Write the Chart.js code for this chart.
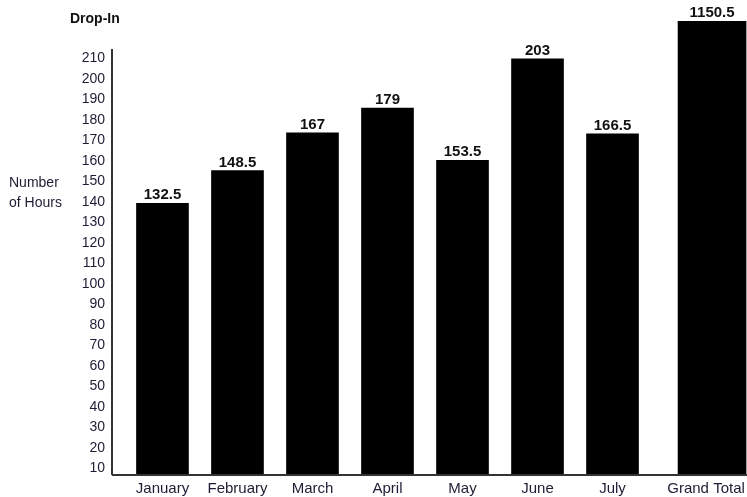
<!DOCTYPE html>
<html lang="en">
<head>
  <meta charset="UTF-8" />
  <title>Drop-In Hours</title>
  <script src="https://cdn.jsdelivr.net/npm/chart.js"></script>
  <style>
    body {
      margin: 0;
      background: #fff;
      font-family: 'Liberation Sans', Arial, sans-serif;
    }
    .wrap {
      position: relative;
      width: 747px;
      height: 497px;
    }
    .title {
      position: absolute;
      left: 70px;
      top: 11px;
      font-size: 14px;
      font-weight: bold;
      line-height: 14px;
      color: #111;
    }
    .ylabel {
      position: absolute;
      left: 9px;
      top: 172px;
      font-size: 14px;
      line-height: 20px;
      color: #1d1d35;
    }
  </style>
</head>
<body>
  <div class="wrap">
    <canvas id="hoursChart"></canvas>
    <div class="title">Drop-In</div>
    <div class="ylabel">Number<br>of Hours</div>
  </div>

  <script>
    // values
    const categories = ["January", "February", "March", "April", "May", "June", "July", "Grand Total"];
    const monthHours = [132.5, 148.5, 167, 179, 153.5, 203, 166.5];
    const grandTotal = 1150.5;
    const yTickLabels = [10, 20, 30, 40, 50, 60, 70, 80, 90, 100, 110, 120, 130, 140, 150, 160, 170, 180, 190, 200, 210];

    // layout of the original: the grand total bar sits a bit further right,
    // its label a touch left of the bar centre
    const gtPos = 7.327, gtLabelPos = 7.247;
    const xMin = -0.673, xMax = 7.793;
    // the printed scale is shifted against the bars in the original
    const labelMin = 6.7, labelMax = 228.2, axisTop = 214.5;
    const barMax = 221.5;

    const valueLabels = {
      id: "valueLabels",
      afterDatasetsDraw(chart) {
        const c = chart.ctx;
        c.save();
        c.fillStyle = "#111";
        c.font = "bold 15px 'Liberation Sans', Arial, sans-serif";
        c.textAlign = "center";
        c.textBaseline = "alphabetic";
        chart.data.datasets.forEach((ds, di) => {
          chart.getDatasetMeta(di).data.forEach((bar, i) => {
            const top = Math.max(bar.y, chart.chartArea.top);
            c.fillText(String(ds.data[i].y), bar.x, top - 4);
          });
        });
        c.restore();
      }
    };

    const axisLines = {
      id: "axisLines",
      afterDraw(chart) {
        const c = chart.ctx;
        const a = chart.chartArea;
        const y1 = chart.scales.y1;
        c.save();
        c.strokeStyle = "#333";
        c.lineWidth = 2;
        c.beginPath();
        c.moveTo(a.left, y1.getPixelForValue(axisTop));
        c.lineTo(a.left, a.bottom);
        c.moveTo(a.left, a.bottom);
        c.lineTo(a.right, a.bottom);
        c.stroke();
        c.restore();
      }
    };

    new Chart(document.getElementById("hoursChart").getContext("2d"), {
      type: "bar",
      data: {
        datasets: [{
          label: "Hours",
          data: monthHours.map((v, i) => ({ x: i, y: v })),
          backgroundColor: "#000",
          barThickness: 52,
          grouped: false,
          clip: 0,
          yAxisID: "y"
        }, {
          label: "Grand Total",
          data: [{ x: gtPos, y: grandTotal }],
          backgroundColor: "#000",
          barThickness: 68,
          grouped: false,
          clip: 0,
          yAxisID: "y"
        }]
      },
      options: {
        responsive: true,
        maintainAspectRatio: false,
        animation: false,
        layout: { padding: { top: 21, left: 0, right: 0, bottom: 0 } },
        plugins: {
          legend: { display: false },
          tooltip: { enabled: false }
        },
        scales: {
          x: {
            type: "linear",
            min: xMin,
            max: xMax,
            offset: false,
            grid: { display: false, drawTicks: false },
            border: { display: false },
            afterBuildTicks: s => {
              s.ticks = categories.map((c, i) => ({ value: i < monthHours.length ? i : gtLabelPos }));
            },
            afterFit: s => {
              s.height = 22;
              s.paddingLeft = 0;
              s.paddingRight = 0;
            },
            ticks: {
              autoSkip: false,
              maxRotation: 0,
              minRotation: 0,
              padding: 5,
              color: "#1d1d35",
              font: { family: "'Liberation Sans', Arial, sans-serif", size: 15 },
              callback: (v, i) => categories[i]
            }
          },
          y: {
            display: false,
            min: 0,
            max: barMax
          },
          y1: {
            position: "left",
            min: labelMin,
            max: labelMax,
            grid: { display: false, drawTicks: false },
            border: { display: false },
            afterBuildTicks: s => {
              s.ticks = yTickLabels.map(v => ({ value: v }));
            },
            afterFit: s => {
              s.width = 112;
              s.paddingTop = 0;
              s.paddingBottom = 0;
            },
            ticks: {
              padding: 7,
              color: "#1d1d35",
              font: { family: "'Liberation Sans', Arial, sans-serif", size: 14 }
            }
          }
        }
      },
      plugins: [valueLabels, axisLines]
    });
  </script>
</body>
</html>
